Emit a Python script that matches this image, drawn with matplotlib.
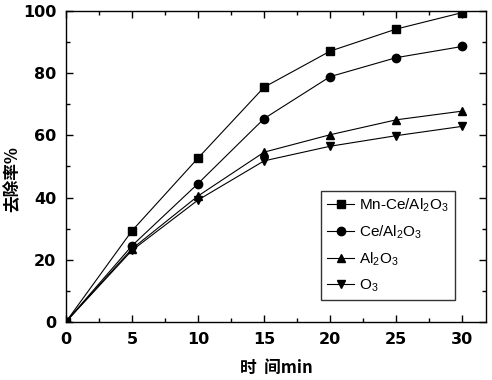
import matplotlib.pyplot as plt
from matplotlib.ticker import MultipleLocator

time = [0, 5, 10, 15, 20, 25, 30]
mn_ce = [0, 29.3, 52.7, 75.5, 87.1, 94.2, 99.5]
ce = [0, 24.5, 44.5, 65.4, 78.9, 85.0, 88.6]
al2o3 = [0, 23.5, 40.5, 54.6, 60.2, 65.0, 67.8]
o3 = [0, 23.0, 39.2, 51.8, 56.5, 59.9, 62.9]

series = [
    (mn_ce, 's', r'Mn-Ce/Al$_2$O$_3$'),
    (ce, 'o', r'Ce/Al$_2$O$_3$'),
    (al2o3, '^', r'Al$_2$O$_3$'),
    (o3, 'v', r'O$_3$'),
]

plt.rcParams['font.family'] = ['Liberation Sans', 'DejaVu Sans']
plt.rcParams['mathtext.fontset'] = 'custom'
plt.rcParams['mathtext.rm'] = 'Liberation Sans'

fig = plt.figure(figsize=(4.92, 3.8), dpi=100)
ax = fig.add_axes([0.134, 0.153, 0.854, 0.818])

for vals, m, lab in series:
    ax.plot(time, vals, color='black', linewidth=0.8, marker=m,
            markersize=6, label=lab)

ax.set_xlim(0, 31.8)
ax.set_ylim(0, 100)
ax.xaxis.set_major_locator(MultipleLocator(5))
ax.xaxis.set_minor_locator(MultipleLocator(2.5))
ax.yaxis.set_major_locator(MultipleLocator(20))
ax.yaxis.set_minor_locator(MultipleLocator(10))
ax.tick_params(which='both', direction='in', top=True, right=True,
               width=1, labelsize=11.5)
ax.tick_params(axis='x', pad=7)
ax.tick_params(axis='y', pad=7)
ax.tick_params(which='major', length=5)
ax.tick_params(which='minor', length=3)
for lbl in ax.get_xticklabels() + ax.get_yticklabels():
    lbl.set_fontweight('heavy')
    lbl.set_family('DejaVu Sans')
for sp in ax.spines.values():
    sp.set_linewidth(1)

cjk = ['Noto Sans CJK SC', 'DejaVu Sans']
ax.set_xlabel('时  间min', fontsize=12, fontweight='heavy', family=cjk)
ax.set_ylabel('去除率%', fontsize=12, fontweight='heavy', family=cjk)
ax.xaxis.set_label_coords(0.5, -0.12)
ax.yaxis.set_label_coords(-0.105, 0.46)

leg = ax.legend(loc='lower right', bbox_to_anchor=(0.925, 0.07),
                fontsize=11, frameon=True, fancybox=False,
                edgecolor='black', handlelength=1.8, handletextpad=0.3,
                borderpad=0.4, labelspacing=0.6, borderaxespad=0)
leg.get_frame().set_linewidth(1)

fig.savefig('out.png', dpi=100)
